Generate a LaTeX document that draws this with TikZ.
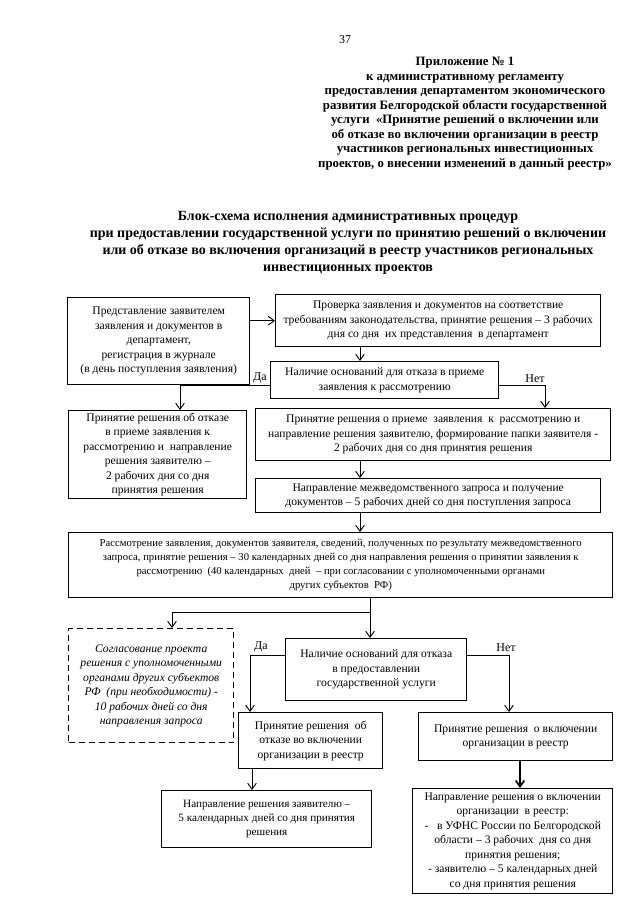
\documentclass[tikz,border=0pt]{standalone}
\usepackage{fontspec}
\setmainfont{Liberation Serif}
\usetikzlibrary{arrows.meta}

\begin{document}
\begin{tikzpicture}[x=0.75pt,y=-0.75pt,
    box/.style={draw,line width=1.1pt,align=center,inner sep=1pt,anchor=north west,
        font=\fontsize{8.7pt}{10.9pt}\selectfont},
    dashbox/.style={box,dash pattern=on 4.5pt off 3pt,font=\fontsize{8.7pt}{10.9pt}\selectfont\itshape},
    smallbox/.style={box,font=\fontsize{8pt}{10.5pt}\selectfont},
    sz/.style 2 args={minimum width={#1*0.75pt},minimum height={#2*0.75pt}},
    arr/.style={line width=0.7pt,-{Straight Barb[length=4.5pt,width=6.5pt]}},
    lbl/.style={font=\fontsize{9pt}{10pt}\selectfont,inner sep=0pt}]
\useasboundingbox (0,0) rectangle (640,905);

\node (pagenum) at (345,40) {\fontsize{9pt}{10pt}\selectfont 37};
\node[align=center,font=\fontsize{9.6pt}{10.9pt}\selectfont\bfseries] (annex) at (465,113.5)
    {Приложение № 1\\
     к административному регламенту\\
     предоставления департаментом экономического\\
     развития Белгородской области государственной\\
     услуги \ «Принятие решений о включении или\\
     об отказе во включении организации в реестр\\
     участников региональных инвестиционных\\
     проектов, о внесении изменений в данный реестр»};
\node[align=center,font=\fontsize{10.5pt}{12.75pt}\selectfont\bfseries] (title) at (348,243)
    {Блок-схема исполнения административных процедур\\
     при предоставлении государственной услуги по принятию решений о включении\\
     или об отказе во включения организаций в реестр участников региональных\\
     инвестиционных проектов};

\node[box,sz={182}{87}] (submit) at (67,297)
    {Представление заявителем\\ заявления и документов в\\ департамент,\\
     регистрация в журнале\\ (в день поступления заявления)};
\node[box,sz={325}{52}] (check) at (275,294)
    {Проверка заявления и документов на соответствие\\
     требованиям законодательства, принятие решения – 3 рабочих\\
     дня со дня \ их представления \ в департамент};
\node[box,sz={228}{37}] (grounds) at (270,361)
    {Наличие оснований для отказа в приеме\\ заявления к рассмотрению};
\node[box,sz={178}{88}] (refuse) at (68,410)
    {Принятие решения об отказе\\ в приеме заявления к\\ рассмотрению и \ направление\\
     решения заявителю –\\ 2 рабочих дня со дня\\ принятия решения};
\node[box,sz={355}{52}] (accept) at (255,408)
    {Принятие решения о приеме \ заявления \ к \ рассмотрению и\\
     направление решения заявителю, формирование папки заявителя -\\
     2 рабочих дня со дня принятия решения};
\node[box,sz={345}{34}] (request) at (255,478)
    {Направление межведомственного запроса и получение\\
     документов – 5 рабочих дней со дня поступления запроса};
\node[smallbox,sz={544}{65}] (review) at (68,532)
    {Рассмотрение заявления, документов заявителя, сведений, полученных по результату межведомственного\\
     запроса, принятие решения – 30 календарных дней со дня направления решения о принятии заявления к\\
     рассмотрению \ (40 календарных \ дней \ – при согласовании с уполномоченными органами\\
     других субъектов \ РФ)};
\node[dashbox,sz={165}{114}] (agree) at (68,628)
    {Согласование проекта\\ решения с уполномоченными\\ органами других субъектов\\
     РФ \ (при необходимости) -\\ 10 рабочих дней со дня\\ направления запроса};
\node[box,sz={181}{62}] (grounds2) at (285,638)
    {Наличие оснований для отказа\\ в предоставлении\\ государственной услуги};
\node[box,sz={144}{56}] (deny) at (238,712)
    {Принятие решения \ об\\ отказе во включении\\ организации в реестр};
\node[box,sz={194}{48}] (include) at (418,712)
    {Принятие решения \ о включении\\ организации в реестр};
\node[box,sz={210}{57},font=\fontsize{8.4pt}{10.3pt}\selectfont] (notify) at (161,790)
    {Направление решения заявителю –\\ 5 календарных дней со дня принятия\\ решения};
\node[box,sz={200}{105}] (send) at (412,788)
    {Направление решения о включении\\ организации \ в реестр:\\
     - \ \ в УФНС России по Белгородской\\ области – 3 рабочих \ дня со дня\\
     принятия решения;\\ - заявителю – 5 календарных дней\\ со дня принятия решения};

\coordinate (colA) at (360,0);
\coordinate (colB) at (180,0);
\coordinate (colC) at (545,0);
\coordinate (colD) at (370,0);
\coordinate (colE) at (172,0);
\coordinate (colF) at (250,0);
\coordinate (colG) at (509,0);
\coordinate (colH) at (520,0);
\coordinate (colI) at (252,0);
\coordinate (rowA) at (0,385);
\coordinate (rowB) at (0,612);
\coordinate (rowC) at (0,655);

\draw[arr] (submit.east |- check.west) -- (check.west);
\draw[arr] (colA |- check.south) -- (colA |- grounds.north);
\draw[arr] (grounds.west |- rowA) -| (colB |- refuse.north);
\draw[arr] (grounds.east |- rowA) -| (colC |- accept.north);
\draw[arr] (colA |- accept.south) -- (colA |- request.north);
\draw[arr] (colA |- request.south) -- (colA |- review.north);
\draw[arr] (colD |- review.south) -- (colD |- grounds2.north);
\draw[arr] (colD |- rowB) -| (colE |- agree.north);
\draw[arr] (grounds2.west |- rowC) -| (colF |- deny.north);
\draw[arr] (grounds2.east |- rowC) -| (colG |- include.north);
\draw[arr] (colI |- deny.south) -- (colI |- notify.north);
\draw[arr,line width=1.3pt] (colH |- include.south) -- (colH |- send.north);

\node[lbl,anchor=south east] (yes1) at (267,383) {Да};
\node[lbl,anchor=south] (no1) at (535,383) {Нет};
\node[lbl,anchor=south] (yes2) at (261,652) {Да};
\node[lbl,anchor=south] (no2) at (506,652) {Нет};
\end{tikzpicture}
\end{document}
